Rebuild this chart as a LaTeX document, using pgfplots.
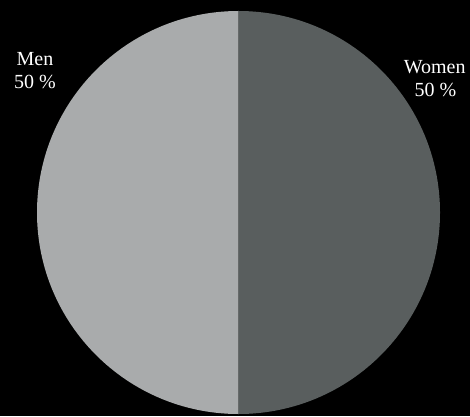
\documentclass[border=0pt]{standalone}
\usepackage{pgfplots}
\usepackage{pgfplotstable}
\pgfplotsset{compat=1.18}
\usepackage{fontspec}
\setmainfont{Liberation Serif}
\definecolor{menc}{RGB}{169,171,172}
\definecolor{womenc}{RGB}{89,94,94}
\pgfplotstableread{
label value
Men 50
Women 50
}\piedata
\begin{document}
\begin{tikzpicture}[x=1bp,y=1bp]
\pgfplotstablegetelem{0}{value}\of\piedata \edef\vA{\pgfplotsretval}
\pgfplotstablegetelem{1}{value}\of\piedata \edef\vB{\pgfplotsretval}
\pgfmathsetmacro\total{\vA+\vB}
\pgfmathsetmacro\aMen{90+360*(\vA/\total)}
\pgfmathsetmacro\aWomen{\aMen+360*(\vB/\total)}
\fill[black] (0,0) rectangle (470,416);
\begin{axis}[
  at={(238.5bp,203.5bp)}, anchor=center,
  scale only axis, width=403bp, height=403bp,
  xmin=-1, xmax=1, ymin=-1, ymax=1,
  hide axis, clip=false]
  \fill[menc] (axis cs:0,0) -- (axis cs:0,1) arc[start angle=90, end angle=\aMen, radius=201.5bp] -- cycle;
  \fill[womenc] (axis cs:0,0) -- (axis cs:0,-1) arc[start angle=\aMen, end angle=\aWomen, radius=201.5bp] -- cycle;
\end{axis}
\begin{scope}[every node/.style={text=white, font=\fontsize{20bp}{23bp}\selectfont, inner sep=0pt, anchor=base}]
  \node at (35,{416-65}) {Men};
  \node at (35,{416-88.3}) {50 \%};
  \node at (434.7,{416-73.3}) {Women};
  \node at (435.5,{416-96.7}) {50 \%};
\end{scope}
\end{tikzpicture}
\end{document}
